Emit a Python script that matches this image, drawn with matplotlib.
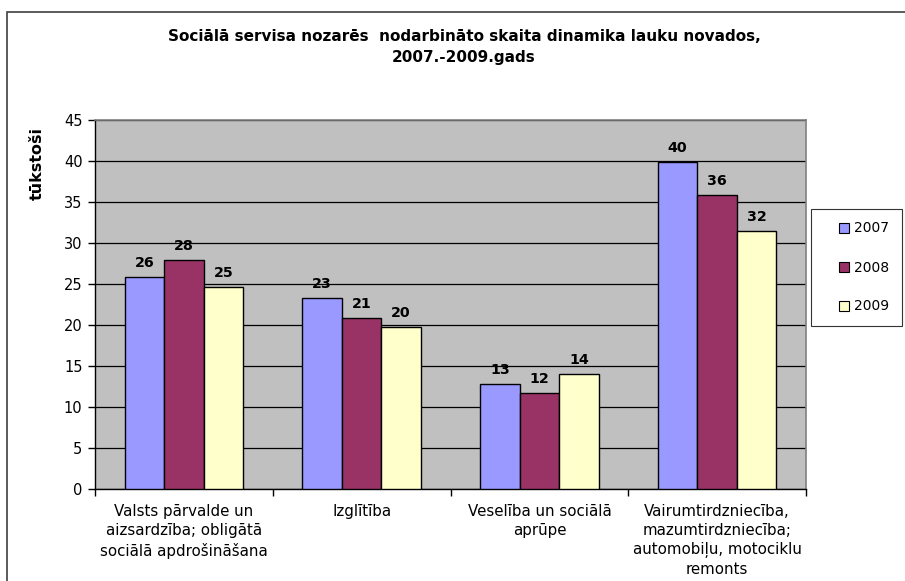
import numpy as np
import matplotlib.pyplot as plt
from matplotlib.patches import Rectangle
from matplotlib.lines import Line2D

plt.rcParams['font.family'] = ['DejaVu Sans']

# --- dati ---
kategorijas = [
    "Valsts pārvalde un\naizsardzība; obligātā\nsociālā apdrošināšana",
    "Izglītība",
    "Veselība un sociālā\naprūpe",
    "Vairumtirdzniecība,\nmazumtirdzniecība;\nautomobiļu, motociklu\nremonts",
]
gadi = ["2007", "2008", "2009"]
v2007 = [25.8, 23.3, 12.8, 39.9]
v2008 = [27.9, 20.8, 11.7, 35.8]
v2009 = [24.6, 19.8, 14.0, 31.5]
etiketes2007 = [26, 23, 13, 40]
etiketes2008 = [28, 21, 12, 36]
etiketes2009 = [25, 20, 14, 32]
krasas = ["#9999FF", "#993366", "#FFFFCC"]

virsraksts = "Sociālā servisa nozarēs  nodarbināto skaita dinamika lauku novados,\n2007.-2009.gads"

W, H = 905, 581
fig = plt.figure(figsize=(W / 100, H / 100), dpi=100)
fig.patch.set_facecolor('white')

# rami ap visu diagrammu
fig.patches.append(Rectangle((7 / W, -0.1), 1.2, 1 - 12 / H + 0.1, transform=fig.transFigure,
                             fill=False, edgecolor='#404040', lw=1.2))

ax = fig.add_axes([95 / W, 1 - 489 / H, (806 - 95) / W, (489 - 120) / H])
ax.set_facecolor('#C0C0C0')

x = np.arange(len(kategorijas))
bw = 1 / 4.5
serijas = [v2007, v2008, v2009]
etiketes = [etiketes2007, etiketes2008, etiketes2009]
for i, (vals, lab) in enumerate(zip(serijas, etiketes)):
    pos = x + (i - 1) * bw
    ax.bar(pos, vals, width=bw, color=krasas[i], edgecolor='black', lw=1.0, zorder=3)
    for px, v, l in zip(pos, vals, lab):
        ax.annotate(str(l), (px, v), xytext=(0, 5), textcoords='offset points',
                    ha='center', va='bottom', fontsize=10.3, fontweight='bold', zorder=4)

ax.set_ylim(0, 45)
ax.set_xlim(-0.5, len(kategorijas) - 0.5)
ax.set_yticks(np.arange(0, 46, 5))
ax.yaxis.grid(True, color='black', lw=0.9, zorder=1)
ax.set_axisbelow(True)
ax.tick_params(axis='y', labelsize=10.5, length=5, width=1, pad=4)

ax.set_xticks(np.arange(-0.5, len(kategorijas), 1))
ax.set_xticklabels([])
ax.set_xticks(x, minor=True)
ax.set_xticklabels(kategorijas, minor=True, fontsize=10.8, linespacing=1.33)
ax.tick_params(axis='x', which='major', length=5, width=1)
ax.tick_params(axis='x', which='minor', length=0, pad=11)

for s in ['top', 'right']:
    ax.spines[s].set_color('#808080')
    ax.spines[s].set_linewidth(1.2)
for s in ['left', 'bottom']:
    ax.spines[s].set_color('black')
    ax.spines[s].set_linewidth(1.0)

fig.text(464 / W, 1 - 29 / H, virsraksts, ha='center', va='top', fontsize=11,
         fontweight='bold', linespacing=1.5)
fig.text(37 / W, 1 - 163 / H, "tūkstoši", rotation=90, ha='center', va='center',
         fontsize=11.5, fontweight='bold')

rokturi = [Line2D([], [], ls='none', marker='s', markersize=7, markerfacecolor=c,
                  markeredgecolor='black', markeredgewidth=0.8) for c in krasas]
leg = fig.legend(rokturi, gadi, loc='upper left', bbox_to_anchor=(811 / W, 1 - 209 / H),
                 bbox_transform=fig.transFigure, fontsize=10, frameon=True, fancybox=False,
                 borderpad=0.9, labelspacing=1.8, handlelength=2.9, handletextpad=-0.7,
                 borderaxespad=0)
leg.get_frame().set_edgecolor('black')
leg.get_frame().set_linewidth(0.8)

fig.savefig('out.png', dpi=100)
